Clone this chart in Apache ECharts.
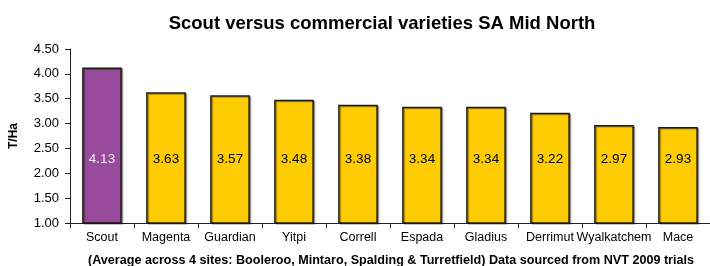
<!DOCTYPE html>
<html>
<head>
<meta charset="utf-8">
<script src="https://cdn.jsdelivr.net/npm/echarts@6/dist/echarts.min.js"></script>
<style>
  html, body { margin: 0; padding: 0; background: #fff; }
  #chart { width: 710px; height: 266px; }
</style>
</head>
<body>
<div id="chart"></div>
<script>
const varieties = ['Scout', 'Magenta', 'Guardian', 'Yitpi', 'Correll', 'Espada', 'Gladius', 'Derrimut', 'Wyalkatchem', 'Mace']
const yields = [4.13, 3.63, 3.57, 3.48, 3.38, 3.34, 3.34, 3.22, 2.97, 2.93]
const highlight = 'Scout'

const chart = echarts.init(document.getElementById('chart'))

chart.setOption({
  animation: false,
  textStyle: { fontFamily: 'Liberation Sans, Arial, sans-serif' },
  title: [{
    text: 'Scout versus commercial varieties SA Mid North',
    left: 377,
    textAlign: 'center',
    top: 9,
    textStyle: { fontSize: 18.5, fontWeight: 'bold', color: '#000' }
  }, {
    text: '(Average across 4 sites: Booleroo, Mintaro, Spalding & Turretfield) Data sourced from NVT 2009 trials',
    left: 386,
    textAlign: 'center',
    top: 249,
    textStyle: { fontSize: 12.6, fontWeight: 'bold', color: '#000' }
  }],
  grid: {
    left: 70,
    right: -5,
    top: 49,
    bottom: 43,
    containLabel: false
  },
  xAxis: {
    type: 'category',
    data: varieties,
    axisLine: { lineStyle: { color: '#222', width: 1 } },
    axisTick: { show: true, length: 5, lineStyle: { color: '#222' } },
    axisLabel: { color: '#000', fontSize: 12.5, margin: 8, interval: 0 }
  },
  yAxis: {
    type: 'value',
    min: 1,
    max: 4.5,
    interval: 0.5,
    name: 'T/Ha',
    nameLocation: 'middle',
    nameGap: 50,
    nameTextStyle: { fontWeight: 'bold', fontSize: 12, color: '#000' },
    axisLine: { show: true, lineStyle: { color: '#222', width: 1 } },
    axisTick: { show: true, length: 5, lineStyle: { color: '#222' } },
    axisLabel: { color: '#000', fontSize: 13, margin: 11, formatter: v => v.toFixed(2) },
    splitLine: { show: false }
  },
  series: [{
    type: 'bar',
    barCategoryGap: '38%',
    data: varieties.map((name, i) => ({
      value: yields[i],
      itemStyle: { color: name === highlight ? '#984B9C' : '#FFCC00' },
      label: { color: name === highlight ? '#F4E6F4' : '#000' }
    })),
    itemStyle: {
      borderColor: '#1e1b10',
      borderWidth: 1.5,
      shadowColor: 'rgba(0,0,0,0.3)',
      shadowOffsetX: 1.5,
      shadowOffsetY: 1
    },
    label: {
      show: true,
      position: 'insideBottom',
      distance: 0,
      offset: [0, -57],
      fontSize: 13.5,
      formatter: p => p.value.toFixed(2)
    }
  }]
})
</script>
</body>
</html>
